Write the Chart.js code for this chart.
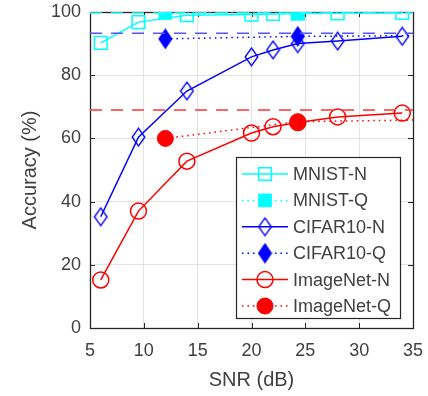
<!DOCTYPE html>
<html>
<head>
<meta charset="utf-8">
<script src="https://cdn.jsdelivr.net/npm/chart.js@4/dist/chart.umd.min.js"></script>
<style>
  html, body { margin: 0; padding: 0; background: #ffffff; }
  #wrap { width: 428px; height: 396px; }
</style>
</head>
<body>
<div id="wrap"><canvas id="c" width="428" height="396"></canvas></div>
<script>
// ---- data ----
const snrN = [6, 9.5, 14, 20, 22, 24.3, 28, 34];
const mnistN = [90.2, 96.8, 99.0, 99.2, 99.4, 99.5, 99.6, 99.7];
const cifarN = [35.2, 60.4, 75.0, 85.8, 88.0, 90.0, 90.8, 92.3];
const imagenetN = [15.2, 37.0, 52.8, 61.7, 63.7, 65.0, 66.8, 68.0];

const snrQ = [12, 24.3, 35];
const mnistQ = [99.7, 99.7, 99.8];
const cifarQ = [91.5, 92.3, 92.5];
const imagenetQ = [60.0, 65.3, 65.8];
const qMarkerShown = [true, true, false];

const refX = [5, 35];
const mnistRef = 99.7;
const cifarRef = 93.3;
const imagenetRef = 69.0;

const xTicks = [5, 10, 15, 20, 25, 30, 35];
const yTicks = [0, 20, 40, 60, 80, 100];

const legendLabels = ['MNIST-N', 'MNIST-Q', 'CIFAR10-N', 'CIFAR10-Q', 'ImageNet-N', 'ImageNet-Q'];
// --------------------------------------

const TXT = '#404040';
const AX = '#262626';
const FONT = "'Liberation Sans', Arial, Helvetica, sans-serif";
const CYAN = '#00ffff', BLUE = '#0000ff', RED = '#ff0000';

function pts(xs, ys) { return xs.map((x, i) => ({ x: x, y: ys[i] })); }

function makeDiamond(w, h, fill, stroke, lw) {
  const c = document.createElement('canvas');
  c.width = w; c.height = h;
  const g = c.getContext('2d');
  const p = lw / 2 + 0.5;
  g.beginPath();
  g.moveTo(w / 2, p);
  g.lineTo(w - p, h / 2);
  g.lineTo(w / 2, h - p);
  g.lineTo(p, h / 2);
  g.closePath();
  if (fill) { g.fillStyle = fill; g.fill(); }
  g.lineWidth = lw; g.strokeStyle = stroke; g.stroke();
  return c;
}
const diamondOpen = makeDiamond(15, 20, null, BLUE, 1.4);
const diamondFull = makeDiamond(15, 21, BLUE, BLUE, 1.2);

const qRadius = (r) => qMarkerShown.map(s => s ? r : 0);

const datasets = [
  { label: 'mnistRef', ref: true, data: pts(refX, [mnistRef, mnistRef]), borderColor: '#33ffff', borderWidth: 1.5, borderDash: [12, 9], pointRadius: 0 },
  { label: 'cifarRef', ref: true, data: pts(refX, [cifarRef, cifarRef]), borderColor: '#5555ff', borderWidth: 1.5, borderDash: [12, 9], pointRadius: 0 },
  { label: 'imagenetRef', ref: true, data: pts(refX, [imagenetRef, imagenetRef]), borderColor: '#ff3333', borderWidth: 1.5, borderDash: [12, 9], pointRadius: 0 },

  { label: legendLabels[4], data: pts(snrN, imagenetN), borderColor: RED, backgroundColor: 'rgba(0,0,0,0)', borderWidth: 1.5,
    pointStyle: 'circle', pointRadius: 8, pointBorderWidth: 1.5, pointBorderColor: RED, pointBackgroundColor: 'rgba(0,0,0,0)' },
  { label: legendLabels[5], data: pts(snrQ, imagenetQ), borderColor: RED, borderWidth: 1.5, borderDash: [1.5, 4],
    pointStyle: 'circle', pointRadius: qRadius(8), pointBorderWidth: 1, pointBorderColor: RED, pointBackgroundColor: RED },

  { label: legendLabels[2], data: pts(snrN, cifarN), borderColor: BLUE, borderWidth: 1.5,
    pointStyle: diamondOpen, pointRadius: 8, pointBorderWidth: 1.5, pointBorderColor: BLUE, pointBackgroundColor: 'rgba(0,0,0,0)' },
  { label: legendLabels[3], data: pts(snrQ, cifarQ), borderColor: BLUE, borderWidth: 1.5, borderDash: [1.5, 4],
    pointStyle: diamondFull, pointRadius: qRadius(8), pointBorderWidth: 1, pointBorderColor: BLUE, pointBackgroundColor: BLUE },

  { label: legendLabels[0], data: pts(snrN, mnistN), borderColor: CYAN, borderWidth: 1.5,
    pointStyle: 'rect', pointRadius: 9, pointBorderWidth: 1.5, pointBorderColor: CYAN, pointBackgroundColor: 'rgba(0,0,0,0)' },
  { label: legendLabels[1], data: pts(snrQ, mnistQ), borderColor: CYAN, borderWidth: 1.5, borderDash: [1.5, 4],
    pointStyle: 'rect', pointRadius: qRadius(9), pointBorderWidth: 1, pointBorderColor: CYAN, pointBackgroundColor: CYAN }
];

// axes box + inward ticks (MATLAB style)
const boxPlugin = {
  id: 'boxPlugin',
  beforeDatasetsDraw(chart) {
    const { ctx, chartArea: a, scales } = chart;
    ctx.save();
    ctx.strokeStyle = AX;
    ctx.lineWidth = 1;
    const tl = 5;
    ctx.beginPath();
    xTicks.forEach(v => {
      const px = Math.round(scales.x.getPixelForValue(v)) + 0.5;
      ctx.moveTo(px, a.bottom); ctx.lineTo(px, a.bottom - tl);
      ctx.moveTo(px, a.top); ctx.lineTo(px, a.top + tl);
    });
    yTicks.forEach(v => {
      const py = Math.round(scales.y.getPixelForValue(v)) + 0.5;
      ctx.moveTo(a.left, py); ctx.lineTo(a.left + tl, py);
      ctx.moveTo(a.right, py); ctx.lineTo(a.right - tl, py);
    });
    ctx.stroke();
    ctx.lineWidth = 1.3;
    ctx.strokeRect(Math.round(a.left) + 0.5, Math.round(a.top) + 0.5, Math.round(a.right - a.left), Math.round(a.bottom - a.top));
    ctx.restore();
  }
};

// legend box inside the plot area, bottom right
const legendPlugin = {
  id: 'insideLegend',
  afterDatasetsDraw(chart) {
    const { ctx, chartArea: a } = chart;
    const w = 164, h = 161;
    const left = a.right - 13 - w, top = a.bottom - 10 - h;
    ctx.save();
    ctx.fillStyle = '#ffffff';
    ctx.fillRect(left, top, w, h);
    ctx.strokeStyle = AX; ctx.lineWidth = 1.2;
    ctx.strokeRect(Math.round(left) + 0.5, Math.round(top) + 0.5, w, h);
    ctx.font = '18px ' + FONT;
    ctx.textBaseline = 'middle';
    ctx.textAlign = 'left';
    legendLabels.forEach((lab, i) => {
      const ds = chart.data.datasets.find(d => d.label === lab);
      const y = top + 17 + i * 26.4;
      const x0 = left + 6, x1 = left + 52, xm = left + 29;
      ctx.save();
      ctx.strokeStyle = ds.borderColor; ctx.lineWidth = ds.borderWidth;
      ctx.setLineDash(ds.borderDash || []);
      ctx.beginPath(); ctx.moveTo(x0, y); ctx.lineTo(x1, y); ctx.stroke();
      ctx.setLineDash([]);
      ctx.fillStyle = ds.pointBackgroundColor;
      ctx.strokeStyle = ds.pointBorderColor;
      ctx.lineWidth = ds.pointBorderWidth;
      const r = Array.isArray(ds.pointRadius) ? ds.pointRadius[0] : ds.pointRadius;
      Chart.helpers.drawPoint(ctx, { pointStyle: ds.pointStyle, rotation: 0, radius: r, borderWidth: ds.pointBorderWidth }, xm, y);
      ctx.restore();
      ctx.fillStyle = TXT;
      ctx.fillText(lab, left + 57, y + 1);
    });
    ctx.restore();
  }
};

new Chart(document.getElementById('c'), {
  type: 'line',
  data: { datasets: datasets },
  plugins: [boxPlugin, legendPlugin],
  options: {
    responsive: false,
    animation: false,
    events: [],
    layout: { padding: { top: 12, right: 15, left: 0, bottom: 0 } },
    plugins: { legend: { display: false }, tooltip: { enabled: false } },
    elements: { line: { tension: 0, fill: false } },
    scales: {
      x: {
        type: 'linear', min: 5, max: 35,
        afterBuildTicks: s => { s.ticks = xTicks.map(v => ({ value: v })); },
        afterFit: s => { s.height = 68; s.paddingLeft = 0; s.paddingRight = 0; },
        grid: { color: '#e3e3e3', lineWidth: 1, drawTicks: false },
        border: { display: false },
        ticks: { color: TXT, font: { family: FONT, size: 18 }, padding: 12, maxRotation: 0 },
        title: { display: true, text: 'SNR (dB)', color: TXT, font: { family: FONT, size: 20 }, padding: { top: 0, bottom: 4 } }
      },
      y: {
        type: 'linear', min: 0, max: 100,
        afterBuildTicks: s => { s.ticks = yTicks.map(v => ({ value: v })); },
        afterFit: s => { s.width = 90; s.paddingTop = 0; s.paddingBottom = 0; },
        grid: { color: '#e3e3e3', lineWidth: 1, drawTicks: false },
        border: { display: false },
        ticks: { color: TXT, font: { family: FONT, size: 18 }, padding: 9 },
        title: { display: true, text: 'Accuracy (%)', color: TXT, font: { family: FONT, size: 20 }, padding: { top: 18, bottom: 0 } }
      }
    }
  }
});
</script>
</body>
</html>
